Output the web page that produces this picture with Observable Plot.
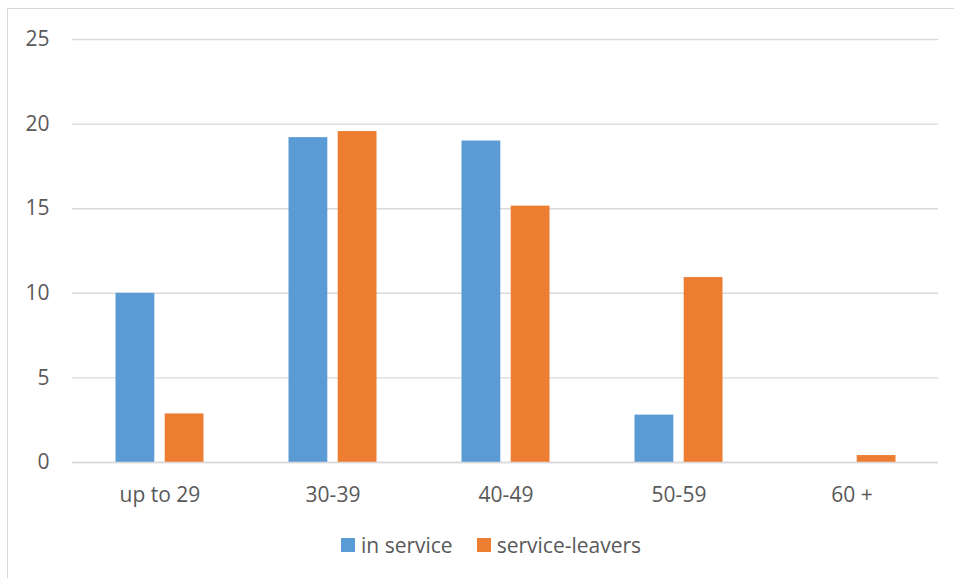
<!DOCTYPE html>
<html>
<head>
<meta charset="utf-8">
<script src="https://cdn.jsdelivr.net/npm/d3@7"></script>
<script src="https://cdn.jsdelivr.net/npm/@observablehq/plot@0.6"></script>
<style>
  html, body { margin: 0; padding: 0; background: #fff; }
  #wrap { position: relative; width: 954px; height: 578px; overflow: hidden; font-family: "Open Sans", sans-serif; }
  #frame { position: absolute; left: 7px; top: 8px; width: 960px; height: 600px; border: 1px solid #d9d9d9; box-sizing: border-box; pointer-events: none; }
  #chart { position: absolute; left: 0; top: 0; }
  #legend { position: absolute; left: 341px; top: 531px; display: flex; align-items: center; font-size: 21px; color: #595959; white-space: nowrap; }
  .sw { display: inline-block; width: 14px; height: 14px; margin-right: 6px; }
  .item { display: flex; align-items: center; margin-right: 24px; }
</style>
</head>
<body>
<div id="wrap">
  <div id="frame"></div>
  <div id="chart"></div>
  <div id="legend"></div>
</div>
<script>
const categories = ["up to 29", "30-39", "40-49", "50-59", "60 +"];
const seriesNames = ["in service", "service-leavers"];
const inService = [10.0, 19.2, 19.0, 2.8, 0];
const serviceLeavers = [2.87, 19.56, 15.15, 10.93, 0.41];
const yTicks = [0, 5, 10, 15, 20, 25];
const colors = ["#5b9bd5", "#ed7d31"];

const blueData = categories.map((c, i) => ({category: c, value: inService[i]}));
const orangeData = categories.map((c, i) => ({category: c, value: serviceLeavers[i]}));

const chart = Plot.plot({
  width: 954,
  height: 520,
  marginTop: 39,
  marginBottom: 58,
  marginLeft: 72,
  marginRight: 16,
  style: {fontFamily: "Open Sans, sans-serif", fontSize: "21px", color: "#595959", background: "transparent"},
  x: {domain: categories, padding: 0, label: null, tickSize: 0, tickPadding: 25},
  y: {domain: [0, 25], ticks: yTicks, label: null, tickSize: 0, tickPadding: 23},
  marks: [
    Plot.gridY(yTicks, {stroke: "#d9d9d9", strokeOpacity: 1, strokeWidth: 1.4}),
    Plot.barY(blueData, {x: "category", y: "value", fill: colors[0], insetLeft: 42.5, insetRight: 91.7}),
    Plot.barY(orangeData, {x: "category", y: "value", fill: colors[1], insetLeft: 91.7, insetRight: 42.5}),
    Plot.ruleY([0], {stroke: "#d9d9d9", strokeWidth: 1.4})
  ]
});
document.getElementById("chart").appendChild(chart);

const legend = document.getElementById("legend");
seriesNames.forEach((name, i) => {
  const item = document.createElement("span");
  item.className = "item";
  const sw = document.createElement("span");
  sw.className = "sw";
  sw.style.background = colors[i];
  item.appendChild(sw);
  item.appendChild(document.createTextNode(name));
  legend.appendChild(item);
});
</script>
</body>
</html>
